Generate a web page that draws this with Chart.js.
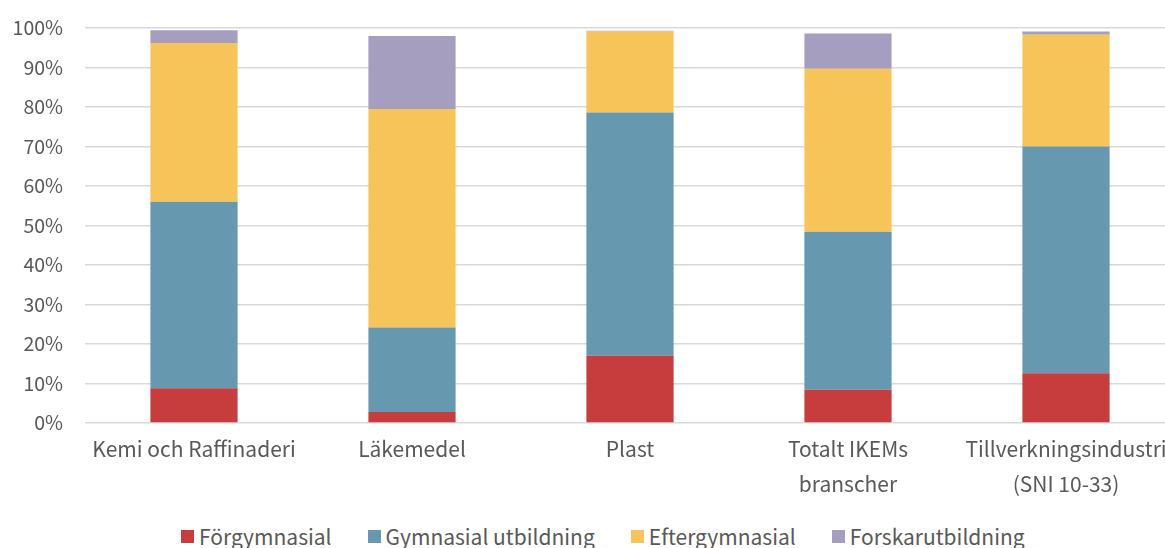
<!DOCTYPE html>
<html>
<head>
<meta charset="utf-8">
<script src="https://cdn.jsdelivr.net/npm/chart.js@4/dist/chart.umd.min.js"></script>
<style>
  html, body { margin: 0; padding: 0; background: #fff; overflow: hidden; }
  #wrap { width: 1165px; height: 548px; position: relative; overflow: hidden; }
  /* the original plot runs a little past the right edge of the picture */
  #chartBox { position: absolute; left: 0; top: 0; width: 1175px; height: 503px; }
  #legend {
    position: absolute; left: 181px; top: 522px; height: 28px;
    display: flex; align-items: center; gap: 36px;
    font-family: "Noto Sans CJK JP", "Noto Sans", sans-serif;
    font-size: 21px; color: #595959; line-height: 28px; white-space: nowrap;
  }
  #legend .item { display: flex; align-items: center; }
  #legend .box { width: 13px; height: 13px; margin-right: 5px; }
</style>
</head>
<body>
<div id="wrap">
  <div id="chartBox"><canvas id="chart"></canvas></div>
  <div id="legend"></div>
</div>
<script>
// categories (multi-line labels as in the original)
const categories = [
    'Kemi och Raffinaderi',
    'Läkemedel',
    'Plast',
    ['Totalt IKEMs', 'branscher'],
    ['Tillverkningsindustri', '(SNI 10-33)']
];

// share of employees by education level (%)
const forgymnasial   = [8.8, 2.8, 17.0, 8.4, 12.6];
const gymnasial      = [47.2, 21.4, 61.6, 40.0, 57.4];
const eftergymnasial = [40.2, 55.3, 20.5, 41.3, 28.3];
const forskar        = [3.2, 18.5, 0.2, 8.9, 0.8];

const yTicks = [0, 10, 20, 30, 40, 50, 60, 70, 80, 90, 100];

const textColor = '#595959';
const fontFamily = '"Noto Sans CJK JP", "Noto Sans", sans-serif';

const ctx = document.getElementById('chart').getContext('2d');

const myChart = new Chart(ctx, {
    type: 'bar',
    data: {
        labels: categories,
        datasets: [
            { label: 'Förgymnasial', data: forgymnasial, backgroundColor: '#C73C3C' },
            { label: 'Gymnasial utbildning', data: gymnasial, backgroundColor: '#6699B0' },
            { label: 'Eftergymnasial', data: eftergymnasial, backgroundColor: '#F6C458' },
            { label: 'Forskarutbildning', data: forskar, backgroundColor: '#A69EBF' }
        ]
    },
    options: {
        responsive: true,
        maintainAspectRatio: false,
        animation: false,
        categoryPercentage: 1,
        barPercentage: 0.4,
        layout: { padding: { top: 28, right: 0, left: 0, bottom: 0 } },
        scales: {
            x: {
                stacked: true,
                grid: { display: false, drawTicks: false },
                border: { display: false },
                ticks: {
                    color: textColor,
                    padding: 9,
                    maxRotation: 0,
                    autoSkip: false,
                    font: { family: fontFamily, size: 21, lineHeight: 1.667 }
                },
                afterFit: axis => {
                    // let the long last label run off the edge like the original
                    axis.paddingLeft = 0;
                    axis.paddingRight = 0;
                    axis.height = 80;
                }
            },
            y: {
                stacked: true,
                min: 0,
                max: 100,
                afterBuildTicks: axis => {
                    axis.ticks = yTicks.map(v => ({ value: v }));
                },
                afterFit: axis => {
                    axis.width = 85;
                    axis.paddingTop = 0;
                    axis.paddingBottom = 0;
                },
                grid: { color: '#D9D9D9', lineWidth: 1.5, drawTicks: false },
                border: { display: false },
                ticks: {
                    color: textColor,
                    padding: 22,
                    font: { family: fontFamily, size: 19.5 },
                    callback: v => v + '%'
                }
            }
        },
        plugins: {
            legend: { display: false },
            tooltip: { enabled: false }
        }
    }
});

// Build legend from the datasets
const legendEl = document.getElementById('legend');
myChart.data.datasets.forEach(ds => {
    const item = document.createElement('div');
    item.className = 'item';
    const box = document.createElement('span');
    box.className = 'box';
    box.style.background = ds.backgroundColor;
    const text = document.createElement('span');
    text.textContent = ds.label;
    item.appendChild(box);
    item.appendChild(text);
    legendEl.appendChild(item);
});
</script>
</body>
</html>
